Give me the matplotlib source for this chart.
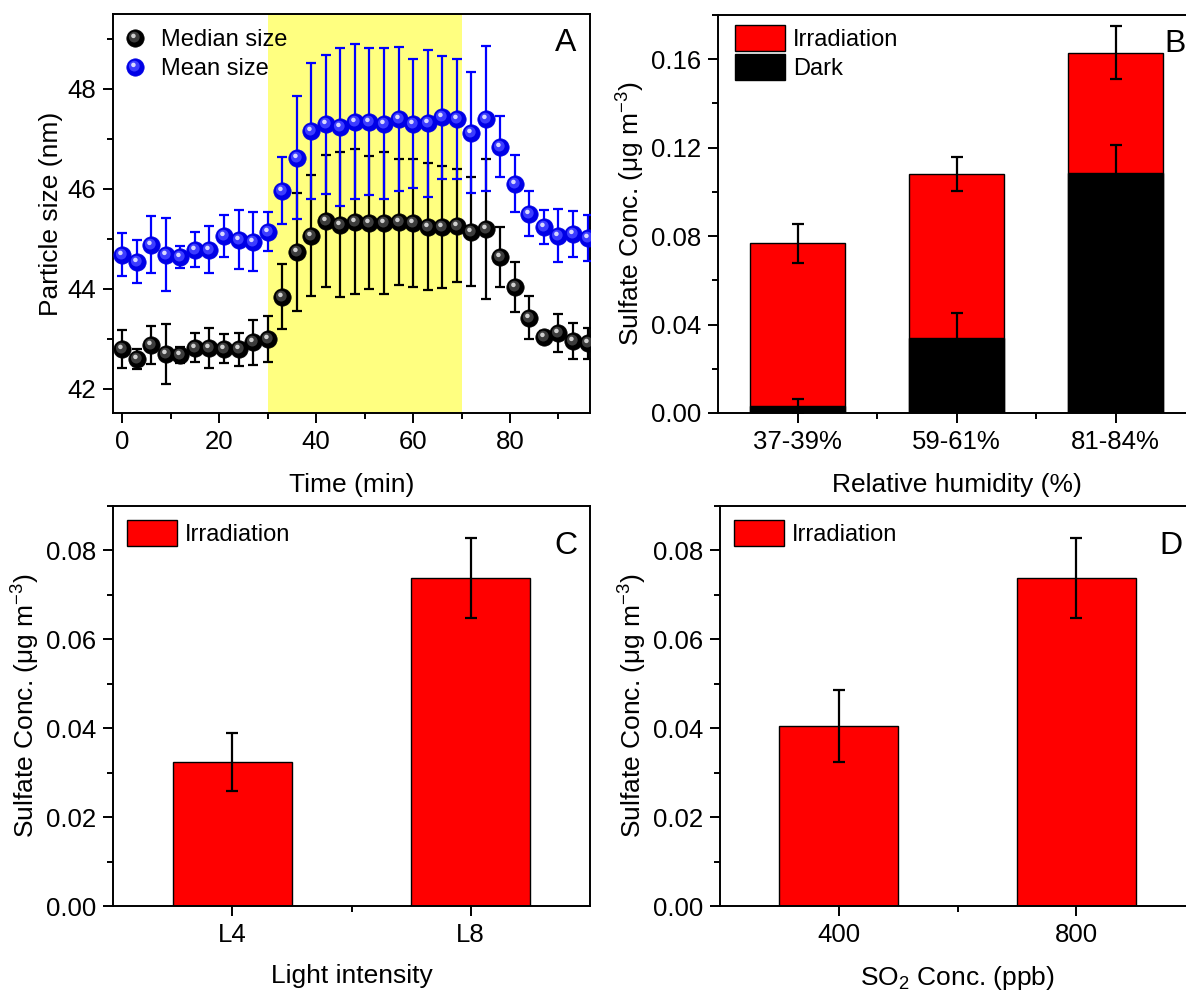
import matplotlib
matplotlib.use("Agg")
import matplotlib.pyplot as plt
from matplotlib.markers import MarkerStyle
from matplotlib.transforms import Affine2D
from matplotlib.legend_handler import HandlerTuple
from matplotlib.patches import Patch
from matplotlib.ticker import MultipleLocator, FormatStrFormatter, FixedLocator

plt.rcParams['font.family'] = ['Liberation Sans', 'DejaVu Sans']
plt.rcParams['mathtext.fontset'] = 'custom'
plt.rcParams['mathtext.rm'] = 'Liberation Sans'
plt.rcParams['mathtext.it'] = 'Liberation Sans:italic'
plt.rcParams['mathtext.bf'] = 'Liberation Sans:bold'

# ---------------- data ----------------
times = [0, 3, 6, 9, 12, 15, 18, 21, 24, 27, 30, 33, 36, 39, 42, 45, 48,
         51, 54, 57, 60, 63, 66, 69, 72, 75, 78, 81, 84, 87, 90, 93, 96]
median_size = [42.80, 42.60, 42.89, 42.71, 42.69, 42.83, 42.83, 42.81, 42.80,
               42.94, 43.00, 43.85, 44.74, 45.07, 45.37, 45.29, 45.35, 45.33,
               45.33, 45.35, 45.32, 45.25, 45.25, 45.27, 45.15, 45.20, 44.65,
               44.05, 43.43, 43.05, 43.12, 42.97, 42.92]
median_err = [0.38, 0.20, 0.38, 0.60, 0.16, 0.29, 0.40, 0.29, 0.33, 0.45, 0.46,
              0.65, 1.19, 1.20, 1.32, 1.45, 1.45, 1.33, 1.42, 1.26, 1.28, 1.27,
              1.22, 1.13, 1.09, 1.39, 0.60, 0.50, 0.43, 0.12, 0.38, 0.36, 0.31]
mean_size = [44.69, 44.55, 44.89, 44.69, 44.64, 44.79, 44.79, 45.07, 44.99,
             44.95, 45.15, 45.97, 46.63, 47.17, 47.30, 47.25, 47.35, 47.35,
             47.31, 47.41, 47.31, 47.32, 47.44, 47.40, 47.13, 47.41, 46.85,
             46.11, 45.51, 45.24, 45.07, 45.10, 45.02]
mean_err = [0.43, 0.43, 0.57, 0.73, 0.22, 0.35, 0.47, 0.42, 0.59, 0.59, 0.39,
            0.67, 1.23, 1.36, 1.39, 1.58, 1.55, 1.48, 1.50, 1.44, 1.30, 1.47,
            1.23, 1.20, 1.20, 1.45, 0.60, 0.57, 0.45, 0.34, 0.53, 0.46, 0.47]
irradiation_window = [30, 70]

rh_labels = ['37-39%', '59-61%', '81-84%']
rh_irr = [0.0767, 0.1081, 0.1630]
rh_irr_err = [0.0090, 0.0075, 0.0118]
rh_dark = [0.0032, 0.0337, 0.1087]
rh_dark_err = [0.0033, 0.0117, 0.0123]

light_labels = ['L4', 'L8']
light_irr = [0.0324, 0.0738]
light_err = [0.0065, 0.0090]

so2_labels = ['400', '800']
so2_irr = [0.0406, 0.0738]
so2_err = [0.0081, 0.0089]

# ---------------- figure ----------------
W, H = 1186, 992
fig = plt.figure(figsize=(W / 100, H / 100), dpi=100)


def ax_px(left, top, right, bottom):
    return fig.add_axes([left / W, (H - bottom) / H, (right - left) / W, (bottom - top) / H])


axA = ax_px(113, 14, 590, 413)
axB = ax_px(718, 15, 1195, 413)
axC = ax_px(113, 506, 590, 906)
axD = ax_px(720, 506, 1195, 906)

TICK_FS = 18.5
LABEL_FS = 19
LEG_FS = 17
LETTER_FS = 23
XLPAD_TOP = 14
XLPAD_BOT = 12.5
YLPAD = 3

for ax in (axA, axB, axC, axD):
    for s in ax.spines.values():
        s.set_linewidth(1.4)
    ax.tick_params(which='both', direction='out', width=1.4, labelsize=TICK_FS,
                   top=False, right=False, pad=5)
    ax.tick_params(which='major', length=7)
    ax.tick_params(which='minor', length=4)

# ---------------- panel A ----------------
axA.axvspan(irradiation_window[0], irradiation_window[1], color='#ffff80', zorder=0, lw=0)


def sphere_layers(ax, x, y, base, mid, light, ms, z):
    h0, = ax.plot(x, y, ls='none', marker='o', ms=ms, mfc=base, mec=base, mew=0.5, zorder=z)
    m1 = MarkerStyle('o', transform=Affine2D().scale(0.62).translate(-0.07, 0.08))
    h1, = ax.plot(x, y, ls='none', marker=m1, ms=ms, mfc=mid, mec='none', zorder=z + 0.1)
    m2 = MarkerStyle('o', transform=Affine2D().scale(0.26).translate(-0.12, 0.15))
    h2, = ax.plot(x, y, ls='none', marker=m2, ms=ms, mfc=light, mec='none', zorder=z + 0.2)
    return (h0, h1, h2)


axA.errorbar(times, median_size, yerr=median_err, fmt='none', ecolor='black',
             elinewidth=1.6, capsize=3.5, capthick=1.6, zorder=2)
hmed = sphere_layers(axA, times, median_size, '#000000', '#3c3c3c', '#d0d0d0', 12.5, 3)
axA.errorbar(times, mean_size, yerr=mean_err, fmt='none', ecolor='#0000ff',
             elinewidth=1.6, capsize=3.5, capthick=1.6, zorder=4)
hmean = sphere_layers(axA, times, mean_size, '#0000e6', '#3c3cff', '#d8d8ff', 12.5, 5)

axA.set_xlim(-1.9, 96.5)
axA.set_ylim(41.52, 49.5)
axA.xaxis.set_major_locator(MultipleLocator(20))
axA.xaxis.set_minor_locator(MultipleLocator(10))
axA.yaxis.set_major_locator(MultipleLocator(2))
axA.yaxis.set_minor_locator(MultipleLocator(1))
axA.set_xlabel('Time (min)', fontsize=LABEL_FS, labelpad=XLPAD_TOP)
axA.set_ylabel('Particle size (nm)', fontsize=LABEL_FS, labelpad=YLPAD)
axA.legend([hmed, hmean], ['Median size', 'Mean size'],
           handler_map={tuple: HandlerTuple(ndivide=1, pad=0)},
           loc='upper left', bbox_to_anchor=(0.022, 0.962), borderaxespad=0,
           borderpad=0, frameon=False, fontsize=LEG_FS, handlelength=1.0,
           handletextpad=0.6, labelspacing=0.3)
axA.text(0.948, 0.927, 'A', transform=axA.transAxes, fontsize=LETTER_FS,
         ha='center', va='center')


# ---------------- bar panels ----------------
def bar_err(ax, xs, vals, errs, width, color, z):
    ax.bar(xs, vals, width=width, color=color, edgecolor='black', linewidth=1.0, zorder=z)
    ax.errorbar(xs, vals, yerr=errs, fmt='none', ecolor='black', elinewidth=1.6,
                capsize=4, capthick=1.6, zorder=z + 5)


ylab = 'Sulfate Conc. (μg m$^{-3}$)'

xB = list(range(len(rh_labels)))
bar_err(axB, xB, rh_irr, rh_irr_err, 0.6, '#ff0000', 2)
bar_err(axB, xB, rh_dark, rh_dark_err, 0.6, '#000000', 3)
axB.set_xlim(-0.5, 2.5)
axB.set_ylim(0, 0.18)
axB.set_xticks(xB)
axB.set_xticklabels(rh_labels)
axB.xaxis.set_minor_locator(FixedLocator([0.5, 1.5]))
axB.yaxis.set_major_locator(MultipleLocator(0.04))
axB.yaxis.set_minor_locator(MultipleLocator(0.02))
axB.yaxis.set_major_formatter(FormatStrFormatter('%.2f'))
axB.set_xlabel('Relative humidity (%)', fontsize=LABEL_FS, labelpad=XLPAD_TOP)
axB.set_ylabel(ylab, fontsize=LABEL_FS, labelpad=YLPAD)
axB.legend([Patch(facecolor='#ff0000', edgecolor='black', lw=1.0),
            Patch(facecolor='#000000', edgecolor='black', lw=1.0)],
           ['Irradiation', 'Dark'], loc='upper left', bbox_to_anchor=(0.036, 0.975),
           borderaxespad=0, borderpad=0, frameon=False, fontsize=LEG_FS,
           handlelength=2.1, handleheight=1.3, handletextpad=0.35, labelspacing=0.15)
axB.text(0.958, 0.927, 'B', transform=axB.transAxes, fontsize=LETTER_FS,
         ha='center', va='center')

for ax, labels, vals, errs, xlabel, letter in (
        (axC, light_labels, light_irr, light_err, 'Light intensity', 'C'),
        (axD, so2_labels, so2_irr, so2_err, 'SO$_2$ Conc. (ppb)', 'D')):
    xs = list(range(len(labels)))
    bar_err(ax, xs, vals, errs, 0.5, '#ff0000', 2)
    ax.set_xlim(-0.5, 1.5)
    ax.set_ylim(0, 0.09)
    ax.set_xticks(xs)
    ax.set_xticklabels(labels)
    ax.xaxis.set_minor_locator(FixedLocator([0.5]))
    ax.yaxis.set_major_locator(MultipleLocator(0.02))
    ax.yaxis.set_minor_locator(MultipleLocator(0.01))
    ax.yaxis.set_major_formatter(FormatStrFormatter('%.2f'))
    ax.set_xlabel(xlabel, fontsize=LABEL_FS, labelpad=XLPAD_BOT)
    ax.set_ylabel(ylab, fontsize=LABEL_FS, labelpad=YLPAD)
    ax.legend([Patch(facecolor='#ff0000', edgecolor='black', lw=1.0)], ['Irradiation'],
              loc='upper left', bbox_to_anchor=(0.03, 0.965), borderaxespad=0,
              borderpad=0, frameon=False, fontsize=LEG_FS, handlelength=2.1,
              handleheight=1.3, handletextpad=0.35)
    ax.text(0.95, 0.9, letter, transform=ax.transAxes, fontsize=LETTER_FS,
            ha='center', va='center')

fig.savefig('out.png', dpi=100)
